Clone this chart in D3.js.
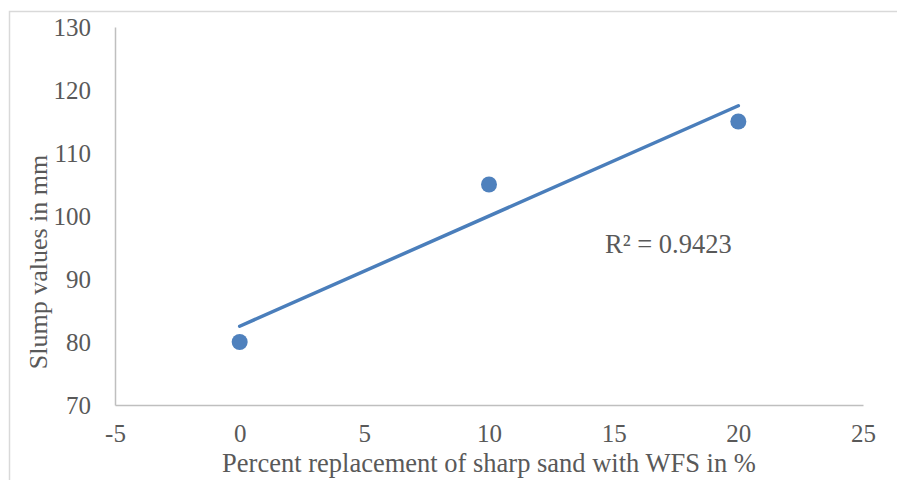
<!DOCTYPE html>
<html>
<head>
<meta charset="utf-8">
<script src="https://cdn.jsdelivr.net/npm/d3@7"></script>
<style>
  html, body { margin: 0; padding: 0; background: #fff; }
  svg { display: block; }
  text { font-family: "Liberation Serif", "Times New Roman", serif; fill: #595959; }
</style>
</head>
<body>
<svg id="chart" width="897" height="480"></svg>
<script>
// Slump test results
const replacement = [0, 10, 20];
const slump = [80, 105, 115];
const xTicks = [-5, 0, 5, 10, 15, 20, 25];
const yTicks = [70, 80, 90, 100, 110, 120, 130];

const svg = d3.select("#chart");
const W = 897, H = 480;

// chart frame
svg.append("rect")
  .attr("x", 9.5).attr("y", 11.5)
  .attr("width", W + 20).attr("height", H + 20)
  .attr("fill", "#fff").attr("stroke", "#d9d9d9").attr("stroke-width", 1.5);

const x = d3.scaleLinear().domain([-5, 25]).range([115, 863]);
const y = d3.scaleLinear().domain([70, 130]).range([405, 27]);

// axes (plain hyphen for negatives)
const fmt = d => String(d);
const xAxis = d3.axisBottom(x).tickValues(xTicks).tickFormat(fmt).tickSize(0).tickPadding(19);
const yAxis = d3.axisLeft(y).tickValues(yTicks).tickFormat(fmt).tickSize(0).tickPadding(24);

const gx = svg.append("g").attr("transform", `translate(0,${y(70)})`).call(xAxis);
const gy = svg.append("g").attr("transform", `translate(${x(-5)},0)`).call(yAxis);

[gx, gy].forEach(g => {
  g.select(".domain").attr("stroke", "#bfbfbf").attr("stroke-width", 1.5);
  g.selectAll(".tick text")
    .attr("fill", "#595959")
    .style("font-family", '"Liberation Serif", "Times New Roman", serif')
    .style("font-size", "25px");
});
gy.selectAll(".tick text").attr("dy", "0.35em");

// least-squares trend line
const mx = d3.mean(replacement), my = d3.mean(slump);
const sxy = d3.sum(replacement, (v, i) => (v - mx) * (slump[i] - my));
const sxx = d3.sum(replacement, v => (v - mx) ** 2);
const slope = sxy / sxx;
const intercept = my - slope * mx;
const ssTot = d3.sum(slump, v => (v - my) ** 2);
const ssRes = d3.sum(replacement, (v, i) => (slump[i] - (intercept + slope * v)) ** 2);
const r2 = 1 - ssRes / ssTot;

const x0 = d3.min(replacement), x1 = d3.max(replacement);
svg.append("line")
  .attr("x1", x(x0)).attr("y1", y(intercept + slope * x0))
  .attr("x2", x(x1)).attr("y2", y(intercept + slope * x1))
  .attr("stroke", "#4a7ebb").attr("stroke-width", 3.5).attr("stroke-linecap", "round");

// data points
svg.append("g").selectAll("circle")
  .data(replacement)
  .join("circle")
  .attr("cx", d => x(d))
  .attr("cy", (d, i) => y(slump[i]))
  .attr("r", 8)
  .attr("fill", "#4f81bd");

// R² label
svg.append("text")
  .attr("x", 605).attr("y", 253)
  .style("font-size", "26.5px")
  .text(`R² = ${r2.toFixed(4)}`);

// axis titles
svg.append("text")
  .attr("x", 489).attr("y", 472)
  .attr("text-anchor", "middle")
  .style("font-size", "26.5px")
  .text("Percent replacement of sharp sand with WFS in %");

svg.append("text")
  .attr("transform", `translate(47,${262}) rotate(-90)`)
  .attr("text-anchor", "middle")
  .style("font-size", "26px")
  .text("Slump values in mm");
</script>
</body>
</html>
